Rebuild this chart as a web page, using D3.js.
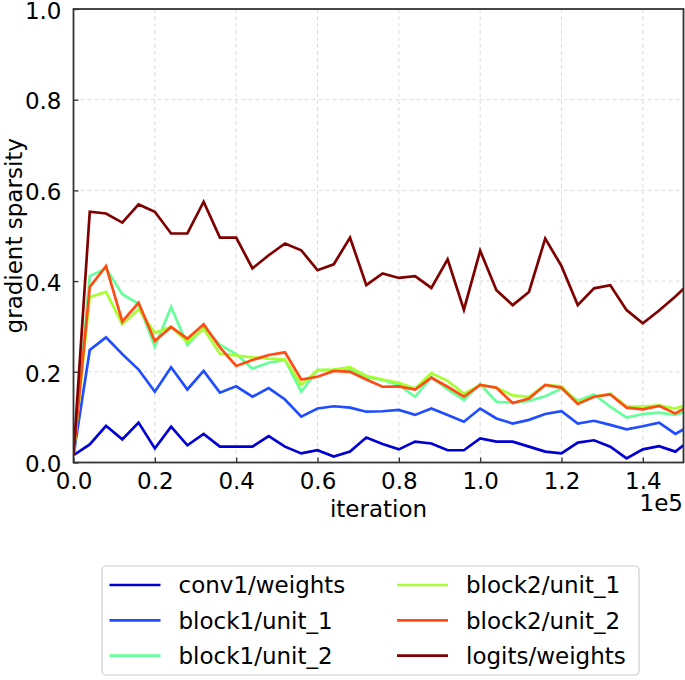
<!DOCTYPE html>
<html>
<head>
<meta charset="utf-8">
<script src="https://cdn.jsdelivr.net/npm/d3@7"></script>
<style>
  html, body { margin: 0; padding: 0; background: #fff; }
  svg { display: block; font-family: "DejaVu Sans", sans-serif; }
</style>
</head>
<body>
<svg id="chart" width="685" height="680"></svg>
<script>
// ---- data ----
const iterations = [0, 4000, 8000, 12000, 16000, 20000, 24000, 28000, 32000, 36000,
  40000, 44000, 48000, 52000, 56000, 60000, 64000, 68000, 72000, 76000,
  80000, 84000, 88000, 92000, 96000, 100000, 104000, 108000, 112000, 116000,
  120000, 124000, 128000, 132000, 136000, 140000, 144000, 148000, 152000];

const conv1Weights = [0.016, 0.040, 0.081, 0.051, 0.088, 0.031, 0.079, 0.038, 0.063, 0.035,
  0.035, 0.035, 0.058, 0.035, 0.020, 0.027, 0.013, 0.024, 0.055, 0.041,
  0.029, 0.046, 0.042, 0.027, 0.027, 0.053, 0.046, 0.046, 0.035, 0.024,
  0.020, 0.044, 0.049, 0.035, 0.009, 0.029, 0.036, 0.024, 0.052];

const block1Unit1 = [0.016, 0.248, 0.276, 0.239, 0.205, 0.156, 0.210, 0.161, 0.202, 0.154,
  0.168, 0.145, 0.164, 0.139, 0.101, 0.119, 0.124, 0.121, 0.112, 0.113,
  0.116, 0.105, 0.119, 0.105, 0.090, 0.119, 0.097, 0.086, 0.094, 0.107,
  0.113, 0.086, 0.092, 0.083, 0.073, 0.080, 0.088, 0.063, 0.083];

const block1Unit2 = [0.016, 0.411, 0.428, 0.371, 0.350, 0.255, 0.343, 0.259, 0.299, 0.260,
  0.239, 0.207, 0.220, 0.226, 0.156, 0.204, 0.204, 0.205, 0.188, 0.182,
  0.171, 0.145, 0.188, 0.161, 0.138, 0.173, 0.134, 0.132, 0.136, 0.146,
  0.163, 0.136, 0.150, 0.123, 0.099, 0.107, 0.110, 0.105, 0.117];

const block2Unit1 = [0.016, 0.365, 0.376, 0.305, 0.338, 0.286, 0.299, 0.266, 0.295, 0.240,
  0.236, 0.232, 0.229, 0.227, 0.171, 0.204, 0.205, 0.210, 0.191, 0.183,
  0.176, 0.163, 0.197, 0.180, 0.152, 0.171, 0.165, 0.148, 0.145, 0.171,
  0.168, 0.132, 0.145, 0.152, 0.124, 0.123, 0.126, 0.119, 0.131];

const block2Unit2 = [0.016, 0.387, 0.433, 0.311, 0.352, 0.268, 0.299, 0.273, 0.305, 0.254,
  0.213, 0.226, 0.237, 0.243, 0.183, 0.189, 0.202, 0.200, 0.183, 0.167,
  0.168, 0.161, 0.187, 0.167, 0.145, 0.171, 0.165, 0.131, 0.141, 0.171,
  0.165, 0.129, 0.145, 0.150, 0.121, 0.117, 0.125, 0.108, 0.129];

const logitsWeights = [0.016, 0.553, 0.549, 0.529, 0.569, 0.553, 0.505, 0.505, 0.575, 0.496,
  0.496, 0.428, 0.457, 0.483, 0.468, 0.424, 0.437, 0.496, 0.391, 0.417,
  0.407, 0.411, 0.385, 0.448, 0.337, 0.467, 0.380, 0.347, 0.376, 0.494,
  0.433, 0.347, 0.384, 0.391, 0.336, 0.307, 0.335, 0.366, 0.400];

const seriesNames = ["conv1/weights", "block1/unit_1", "block1/unit_2",
                     "block2/unit_1", "block2/unit_2", "logits/weights"];
const seriesValues = [conv1Weights, block1Unit1, block1Unit2, block2Unit1, block2Unit2, logitsWeights];
const seriesColors = ["#0000d4", "#1f4dff", "#66ff99", "#a6ff33", "#ff4c14", "#800000"];

const xTicks = [0, 20000, 40000, 60000, 80000, 100000, 120000, 140000];
const xTickLabels = ["0.0", "0.2", "0.4", "0.6", "0.8", "1.0", "1.2", "1.4"];
const yTicks = [0, 0.2, 0.4, 0.6, 0.8, 1.0];
const yTickLabels = ["0.0", "0.2", "0.4", "0.6", "0.8", "1.0"];

// ---- layout ----
const svg = d3.select("#chart");
const plotL = 73.5, plotR = 683.5, plotT = 9, plotB = 462.5;
const fontSize = 23;

const x = d3.scaleLinear().domain([0, 150000]).range([plotL, plotR]);
const y = d3.scaleLinear().domain([0, 1]).range([plotB, plotT]);

svg.append("defs").append("clipPath").attr("id", "clip")
  .append("rect").attr("x", plotL).attr("y", plotT)
  .attr("width", plotR - plotL).attr("height", plotB - plotT);

// grid
const grid = svg.append("g");
grid.selectAll(".gx").data(xTicks.slice(1)).enter().append("line")
  .attr("x1", d => x(d)).attr("x2", d => x(d))
  .attr("y1", plotT).attr("y2", plotB)
  .attr("stroke", "#dcdcdc").attr("stroke-width", 1).attr("stroke-dasharray", "4,3");
grid.selectAll(".gy").data(yTicks.slice(1, -1)).enter().append("line")
  .attr("y1", d => y(d)).attr("y2", d => y(d))
  .attr("x1", plotL).attr("x2", plotR)
  .attr("stroke", "#dcdcdc").attr("stroke-width", 1).attr("stroke-dasharray", "4,3");

// lines
const line = d3.line().x((d, i) => x(iterations[i])).y(d => y(d));
const lines = svg.append("g").attr("clip-path", "url(#clip)");
seriesValues.forEach((vals, k) => {
  lines.append("path").datum(vals)
    .attr("d", line)
    .attr("fill", "none")
    .attr("stroke", seriesColors[k])
    .attr("stroke-width", 2.7)
    .attr("stroke-linejoin", "miter");
});

// axes (ticks inward)
const xAxis = d3.axisBottom(x).tickValues(xTicks)
  .tickFormat((d, i) => xTickLabels[i]).tickSizeInner(-5).tickSizeOuter(0).tickPadding(10);
const yAxis = d3.axisLeft(y).tickValues(yTicks)
  .tickFormat((d, i) => yTickLabels[i]).tickSizeInner(-5).tickSizeOuter(0).tickPadding(12);

const gx = svg.append("g").attr("transform", `translate(0,${plotB})`).call(xAxis);
const gy = svg.append("g").attr("transform", `translate(${plotL},0)`).call(yAxis);
[gx, gy].forEach(g => {
  g.select(".domain").remove();
  g.selectAll(".tick line").attr("stroke", "#333").attr("stroke-width", 1.3);
  g.selectAll(".tick text").attr("font-size", fontSize).attr("fill", "#000")
    .attr("font-family", "DejaVu Sans");
});
gy.selectAll(".tick text").attr("dy", "0.4em");

// spines
svg.append("rect").attr("x", plotL).attr("y", plotT)
  .attr("width", plotR - plotL).attr("height", plotB - plotT)
  .attr("fill", "none").attr("stroke", "#333").attr("stroke-width", 1.8);

// labels
svg.append("text").attr("x", (plotL + plotR) / 2).attr("y", 517)
  .attr("text-anchor", "middle").attr("font-size", fontSize).text("iteration");
svg.append("text").attr("x", 683).attr("y", 511)
  .attr("text-anchor", "end").attr("font-size", fontSize).text("1e5");
svg.append("text")
  .attr("transform", `translate(22,${(plotT + plotB) / 2}) rotate(-90)`)
  .attr("text-anchor", "middle").attr("font-size", fontSize).text("gradient sparsity");

// legend
const legend = svg.append("g");
legend.append("rect").attr("x", 102).attr("y", 566)
  .attr("width", 537).attr("height", 109).attr("rx", 4)
  .attr("fill", "#fff").attr("stroke", "#cccccc").attr("stroke-width", 1.2);
const colX = [109.5, 397];
const rowY = [585, 620.3, 655.6];
seriesNames.forEach((name, k) => {
  const c = Math.floor(k / 3), r = k % 3;
  legend.append("line")
    .attr("x1", colX[c]).attr("x2", colX[c] + 51)
    .attr("y1", rowY[r]).attr("y2", rowY[r])
    .attr("stroke", seriesColors[k]).attr("stroke-width", 2.7);
  legend.append("text")
    .attr("x", colX[c] + 69).attr("y", rowY[r]).attr("dy", "0.36em")
    .attr("font-size", fontSize).text(name);
});
</script>
</body>
</html>
